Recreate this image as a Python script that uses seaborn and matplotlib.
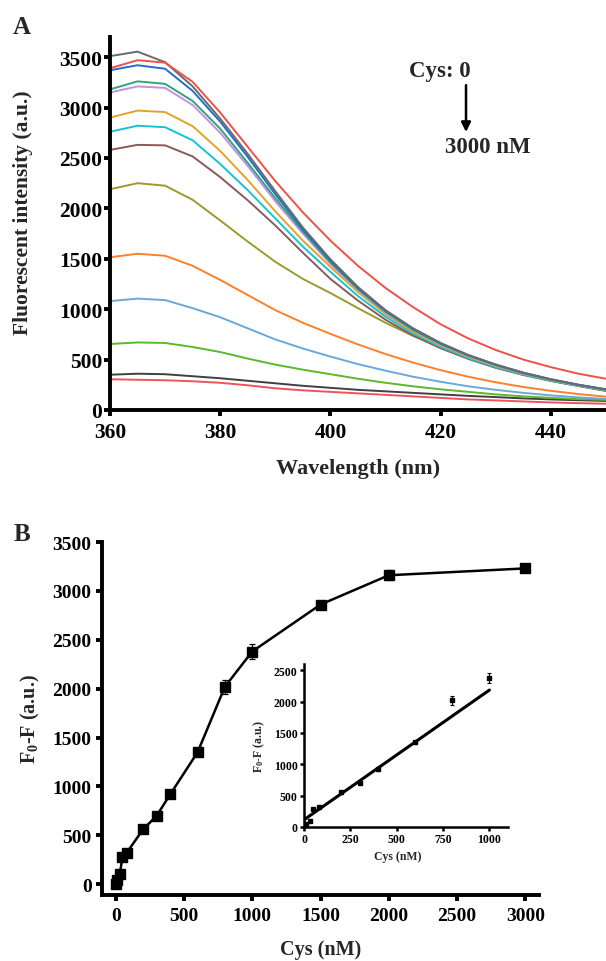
import numpy as np
import pandas as pd
import matplotlib
matplotlib.use('Agg')
import matplotlib.pyplot as plt
import seaborn as sns

# ---- data, panel A (emission spectra) ----
wavelength = [360, 365, 370, 375, 380, 385, 390, 395, 400, 405,
              410, 415, 420, 425, 430, 435, 440, 445, 450]
spec_gray = [3510, 3555, 3450, 3210, 2890, 2540, 2170, 1810, 1495, 1220, 990, 810, 665, 545, 450, 370, 305, 250, 205]
spec_red = [3390, 3470, 3445, 3255, 2950, 2610, 2270, 1960, 1680, 1430, 1210, 1020, 850, 710, 595, 500, 425, 360, 310]
spec_blue = [3370, 3420, 3385, 3165, 2860, 2510, 2140, 1790, 1480, 1210, 985, 805, 660, 545, 450, 370, 305, 250, 205]
spec_teal = [3180, 3260, 3235, 3065, 2790, 2450, 2100, 1770, 1465, 1200, 975, 795, 655, 540, 445, 365, 300, 250, 200]
spec_violet = [3150, 3210, 3195, 3025, 2750, 2420, 2070, 1750, 1450, 1190, 965, 790, 650, 535, 440, 360, 300, 245, 200]
spec_gold = [2900, 2970, 2955, 2815, 2570, 2280, 1970, 1680, 1420, 1170, 950, 775, 640, 528, 435, 360, 295, 245, 198]
spec_cyan = [2760, 2820, 2805, 2675, 2440, 2180, 1900, 1620, 1370, 1130, 925, 760, 625, 515, 425, 352, 290, 240, 193]
spec_brown = [2580, 2630, 2625, 2515, 2310, 2080, 1830, 1560, 1300, 1085, 895, 740, 612, 507, 418, 347, 288, 238, 192]
spec_olive = [2190, 2250, 2225, 2085, 1880, 1670, 1470, 1300, 1160, 1010, 865, 735, 620, 520, 430, 355, 290, 238, 188]
spec_orange = [1515, 1550, 1530, 1430, 1290, 1140, 990, 865, 755, 650, 555, 470, 395, 330, 275, 228, 190, 158, 132]
spec_ltblue = [1080, 1105, 1090, 1010, 920, 810, 700, 610, 530, 455, 390, 330, 280, 235, 200, 170, 145, 125, 110]
spec_green = [655, 670, 665, 625, 575, 510, 450, 400, 355, 310, 270, 235, 205, 180, 155, 135, 120, 108, 100]
spec_dkgray = [350, 360, 355, 335, 315, 290, 265, 240, 220, 200, 185, 170, 155, 140, 128, 115, 105, 97, 90]
spec_red2 = [305, 300, 295, 285, 270, 245, 215, 195, 180, 165, 150, 135, 120, 105, 95, 85, 75, 68, 62]

spectra = [spec_red2, spec_dkgray, spec_green, spec_ltblue, spec_orange, spec_olive, spec_brown,
           spec_cyan, spec_gold, spec_violet, spec_teal, spec_blue, spec_gray, spec_red]
spec_colors = ['#f0525a', '#404040', '#5cb82c', '#6aa8dc', '#ff7f2a', '#9a9a30', '#8a5a5a',
               '#14c4d4', '#e3a32a', '#c690e0', '#2ea57c', '#1f6fc8', '#6a6a6a', '#f0504a']

# ---- data, panel B (response vs Cys) ----
cys = [0, 10, 30, 50, 80, 200, 300, 400, 600, 800, 1000, 1500, 2000, 3000]
response = [0, 40, 100, 280, 320, 560, 700, 920, 1350, 2020, 2380, 2860, 3160, 3230]
response_err = [0, 0, 10, 15, 15, 20, 20, 20, 20, 70, 80, 30, 50, 40]

# inset: linear range and its fit
fit_x = [0, 1000]
fit_y = [115, 2185]

sns.set_style('ticks')
plt.rcParams['font.family'] = ['Liberation Serif', 'DejaVu Serif']
plt.rcParams['font.weight'] = 'bold'
plt.rcParams['axes.labelweight'] = 'bold'
plt.rcParams['mathtext.fontset'] = 'custom'
plt.rcParams['mathtext.rm'] = 'Liberation Serif:bold'
plt.rcParams['mathtext.it'] = 'Liberation Serif:bold'
plt.rcParams['mathtext.bf'] = 'Liberation Serif:bold'

fig = plt.figure(figsize=(6.06, 9.62), dpi=100)


def style_axes(ax, lw, tlen, fs, xpad, ypad):
    for s in ['top', 'right']:
        ax.spines[s].set_visible(False)
    for s in ['left', 'bottom']:
        ax.spines[s].set_linewidth(lw)
        ax.spines[s].set_color('black')
    ax.tick_params(direction='out', length=tlen, width=lw, labelsize=fs, colors='black')
    ax.tick_params(axis='x', pad=xpad)
    ax.tick_params(axis='y', pad=ypad)
    for lab in ax.get_xticklabels() + ax.get_yticklabels():
        lab.set_fontweight('bold')


# ---------- Panel A ----------
axA = fig.add_axes([110 / 606, 1 - 411 / 962, 496 / 606, 373 / 962])
rows = []
for i, s in enumerate(spectra):
    for w, v in zip(wavelength, s):
        rows.append({'wl': w, 'I': v, 'curve': i})
dfA = pd.DataFrame(rows)
sns.lineplot(data=dfA, x='wl', y='I', hue='curve', palette=spec_colors, legend=False,
             linewidth=1.4, ax=axA)
axA.set_xlim(360, 450)
axA.set_ylim(0, 3700)
axA.set_xticks([360, 380, 400, 420, 440])
axA.set_yticks(np.arange(0, 3501, 500))
style_axes(axA, 2.8, 4, 15.5, 4.5, 1.5)
axA.set_xlabel('Wavelength (nm)', fontsize=16, fontweight='bold')
axA.set_ylabel('Fluorescent intensity (a.u.)', fontsize=15.5, fontweight='bold')
axA.xaxis.set_label_coords(0.5, -0.13)
axA.yaxis.set_label_coords(-0.155, 0.533)

axA.text(419.9, 3363, 'Cys: 0', ha='center', va='center', fontsize=16.5, fontweight='bold')
axA.annotate('', xy=(424.6, 2730), xytext=(424.6, 3250),
             arrowprops=dict(arrowstyle='-|>', color='black', lw=1.8, mutation_scale=14))
axA.text(428.6, 2609, '3000 nM', ha='center', va='center', fontsize=16.5, fontweight='bold')
fig.text(22 / 606, 1 - 28 / 962, 'A', fontsize=18, fontweight='bold', ha='center', va='center')

# ---------- Panel B ----------
axB = fig.add_axes([102 / 606, 1 - 896 / 962, 437 / 606, 353 / 962])
sns.lineplot(x=cys, y=response, color='black', linewidth=1.8, ax=axB)
axB.errorbar(cys, response, yerr=response_err, fmt='s', color='black', ms=6.5,
             capsize=2.5, elinewidth=0.9, capthick=0.9)
axB.set_xlim(-100, 3100)
axB.set_ylim(-110, 3500)
axB.set_xticks(np.arange(0, 3001, 500))
axB.set_yticks(np.arange(0, 3501, 500))
style_axes(axB, 2.8, 4, 14, 4.5, 3.5)
axB.set_xlabel('Cys (nM)', fontsize=14.5, fontweight='bold')
axB.set_ylabel('F$_{0}$-F (a.u.)', fontsize=14.5, fontweight='bold')
axB.xaxis.set_label_coords(0.5, -0.125)
axB.yaxis.set_label_coords(-0.137, 0.5)
fig.text(22 / 606, 1 - 535 / 962, 'B', fontsize=18, fontweight='bold', ha='center', va='center')

# ---------- Inset ----------
lin_x = cys[:11]
lin_y = response[:11]
lin_err = response_err[:11]
axI = fig.add_axes([304 / 606, 1 - 828 / 962, 204 / 606, 163 / 962])
sns.lineplot(x=fit_x, y=fit_y, color='black', linewidth=2.2, ax=axI)
axI.errorbar(lin_x, lin_y, yerr=lin_err, fmt='s', color='black', ms=3.3,
             capsize=1.5, elinewidth=0.8, capthick=0.8)
axI.set_xlim(0, 1100)
axI.set_ylim(0, 2600)
axI.set_xticks([0, 250, 500, 750, 1000])
axI.set_yticks(np.arange(0, 2501, 500))
style_axes(axI, 1.8, 3, 8.5, 1.5, 1.5)
axI.set_xlabel('Cys (nM)', fontsize=8.5, fontweight='bold')
axI.set_ylabel('F$_{0}$-F (a.u.)', fontsize=8.5, fontweight='bold')
axI.xaxis.set_label_coords(0.46, -0.14)
axI.yaxis.set_label_coords(-0.181, 0.5)

fig.savefig('out.png', dpi=100)
